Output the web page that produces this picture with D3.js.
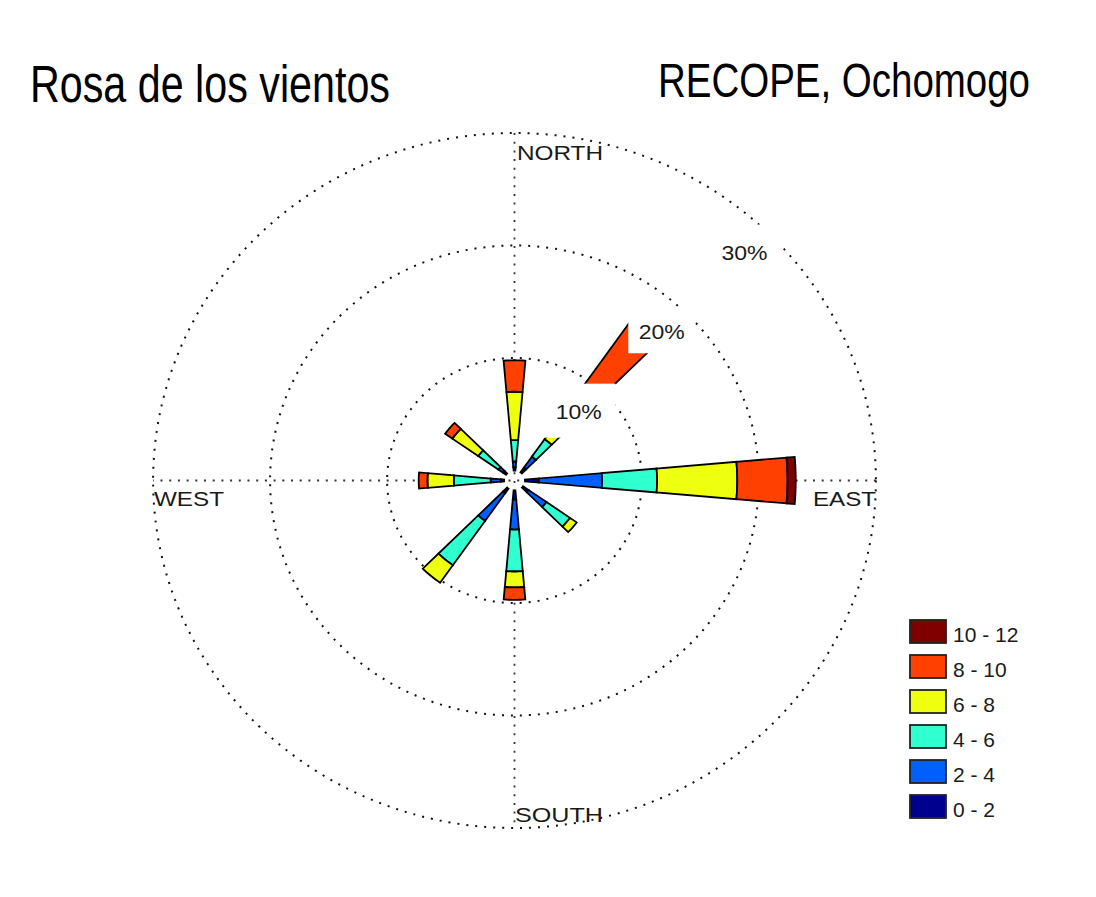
<!DOCTYPE html>
<html>
<head>
<meta charset="utf-8">
<script src="https://cdn.jsdelivr.net/npm/d3@7"></script>
<style>
  html, body { margin: 0; padding: 0; background: #fff; }
  svg { display: block; }
  text { font-family: "Liberation Sans", Arial, sans-serif; }
</style>
</head>
<body>
<svg id="chart" width="1096" height="897"></svg>
<script>
// ---------------- DATA ----------------
const directions = [0, 40, 90, 130, 180, 220, 270, 310];          // degrees (bin centres)
const speed0to2   = [0.3, 0.5, 1.2,  0.6,  0.8,  0.5, 0.3,  0.3];   // % frequency
const speed2to4   = [0.5, 1.2, 5.4,  1.85, 2.67, 3.0, 0.85, 0.5];
const speed4to6   = [1.9, 1.9, 4.7,  2.45, 3.73, 4.8, 3.15, 2.1];
const speed6to8   = [4.3, 3.9, 6.85, 0.7,  1.42, 1.9, 2.25, 2.7];
const speed8to10  = [2.8, 9.3, 4.3,  0,    1.1,  0,   0.75, 0.75];
const speed10to12 = [0,   0,   0.7,  0,    0,    0,   0,    0];
const speedLabels = ["0 - 2", "2 - 4", "4 - 6", "6 - 8", "8 - 10", "10 - 12"];
const ringValues  = [10, 20, 30];
const ringLabels  = ["10%", "20%", "30%"];
const cardinalLabels = ["NORTH", "EAST", "SOUTH", "WEST"];
const titleText = "Rosa de los vientos";
const stationText = "RECOPE, Ochomogo";

// ---------------- STYLE / LAYOUT ----------------
const binColors = ["#00008F", "#0060FF", "#30FFCF", "#EFFF10", "#FF4000", "#800000"];
const series = [speed0to2, speed2to4, speed4to6, speed6to8, speed8to10, speed10to12];
const cx = 514.5, cy = 480.5, SX = 1.04;   // centre and horizontal stretch of the polar frame
const binWidth = 10;                        // degrees

const svg = d3.select("#chart");
svg.append("rect").attr("width", 1096).attr("height", 897).attr("fill", "#fff");

const rScale = d3.scaleLinear().domain([0, 30]).range([10, 347.5]);
const aScale = d3.scaleLinear().domain([0, 360]).range([0, 2 * Math.PI]);
function pt(deg, p) {
  const a = aScale(deg), r = rScale(p);
  return [cx + SX * r * Math.sin(a), cy - r * Math.cos(a)];
}
const line = d3.line();

// ---------------- GRID ----------------
const grid = svg.append("g");
grid.selectAll("ellipse").data(ringValues).join("ellipse")
  .attr("cx", cx).attr("cy", cy)
  .attr("rx", d => SX * rScale(d)).attr("ry", d => rScale(d))
  .attr("fill", "none").attr("stroke", "#111").attr("stroke-width", 2)
  .attr("stroke-dasharray", "2 7");
[[0, 180], [90, 270]].forEach(([a, b]) => {
  const p1 = pt(a, 30), p2 = pt(b, 30);
  grid.append("line")
    .attr("x1", p1[0]).attr("y1", p1[1]).attr("x2", p2[0]).attr("y2", p2[1])
    .attr("stroke", "#333").attr("stroke-width", 1.8)
    .attr("stroke-dasharray", "2 6.7");
});

// ---------------- BARS ----------------
function wedge(deg, p0, p1) {
  const n = 8, pts = [];
  for (let i = 0; i <= n; i++) pts.push(pt(deg - binWidth / 2 + binWidth * i / n, p1));
  for (let i = n; i >= 0; i--) pts.push(pt(deg - binWidth / 2 + binWidth * i / n, p0));
  return line(pts) + "Z";
}
const bars = svg.append("g");
directions.forEach((deg, di) => {
  let cum = 0;
  series.forEach((s, si) => {
    const v = s[di];
    if (v > 0) {
      bars.append("path")
        .attr("d", wedge(deg, cum, cum + v))
        .attr("fill", binColors[si])
        .attr("stroke", "#000").attr("stroke-width", 1.8)
        .attr("stroke-linejoin", "miter");
    }
    cum += v;
  });
});

// ---------------- RING LABELS (with white boxes) ----------------
const ringLabelAngles = [41.5, 43.5, 44];
const ringLabelOffset = 2.6;
const ringBoxes = [[74, 54], [67, 44], [74, 54]];
const rl = svg.append("g");
ringValues.forEach((v, i) => {
  const c = pt(ringLabelAngles[i], v - ringLabelOffset);
  const [w, h] = ringBoxes[i];
  rl.append("rect").attr("x", c[0] - w / 2).attr("y", c[1] - h / 2)
    .attr("width", w).attr("height", h).attr("fill", "#fff");
  rl.append("text").attr("x", c[0]).attr("y", c[1] + 8)
    .attr("text-anchor", "middle").attr("font-size", 21).attr("fill", "#1a1a1a")
    .attr("textLength", 46).attr("lengthAdjust", "spacingAndGlyphs")
    .text(ringLabels[i]);
});

// ---------------- CARDINAL LABELS ----------------
const cardPos = [
  { x: 517, y: 160, w: 86 },   // NORTH
  { x: 813, y: 506, w: 63 },   // EAST
  { x: 515, y: 822, w: 88 },   // SOUTH
  { x: 154, y: 506, w: 70 }    // WEST
];
svg.append("g").selectAll("text").data(cardinalLabels).join("text")
  .attr("x", (d, i) => cardPos[i].x).attr("y", (d, i) => cardPos[i].y)
  .attr("font-size", 21).attr("fill", "#1a1a1a")
  .attr("textLength", (d, i) => cardPos[i].w).attr("lengthAdjust", "spacingAndGlyphs")
  .text(d => d);

// ---------------- LEGEND ----------------
const legend = svg.append("g");
const legendOrder = d3.range(speedLabels.length).reverse();
legendOrder.forEach((si, row) => {
  const y0 = 620 + row * 35;
  legend.append("rect").attr("x", 910).attr("y", y0).attr("width", 36).attr("height", 23)
    .attr("fill", binColors[si]).attr("stroke", "#222").attr("stroke-width", 1.8);
  legend.append("text").attr("x", 953).attr("y", y0 + 22)
    .attr("font-family", "'DejaVu Sans', sans-serif")
    .attr("font-size", 21).attr("fill", "#1a1a1a").text(speedLabels[si]);
});

// ---------------- TITLES ----------------
svg.append("text").attr("x", 30).attr("y", 102)
  .attr("font-family", "'Liberation Sans Narrow', 'DejaVu Sans Condensed', sans-serif")
  .attr("font-size", 51).attr("fill", "#000")
  .attr("textLength", 360).attr("lengthAdjust", "spacingAndGlyphs")
  .text(titleText);
svg.append("text")
  .attr("transform", "translate(1030,97) scale(1,1.2)")
  .attr("x", 0).attr("y", 0)
  .attr("text-anchor", "end")
  .attr("font-family", "'Liberation Sans Narrow', 'DejaVu Sans Condensed', sans-serif")
  .attr("font-size", 40).attr("fill", "#000")
  .attr("textLength", 372).attr("lengthAdjust", "spacingAndGlyphs")
  .text(stationText);
</script>
</body>
</html>
